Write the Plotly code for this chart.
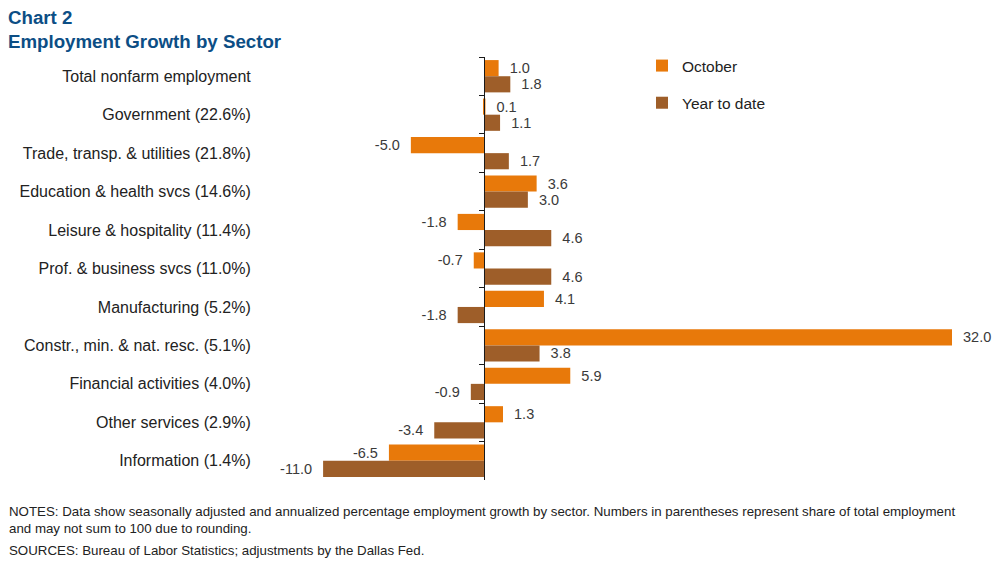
import plotly.graph_objects as go

categories = [
    "Total nonfarm employment",
    "Government (22.6%)",
    "Trade, transp. & utilities (21.8%)",
    "Education & health svcs (14.6%)",
    "Leisure & hospitality (11.4%)",
    "Prof. & business svcs (11.0%)",
    "Manufacturing (5.2%)",
    "Constr., min. & nat. resc. (5.1%)",
    "Financial activities (4.0%)",
    "Other services (2.9%)",
    "Information (1.4%)",
]
october = [1.0, 0.1, -5.0, 3.6, -1.8, -0.7, 4.1, 32.0, 5.9, 1.3, -6.5]
year_to_date = [1.8, 1.1, 1.7, 3.0, 4.6, 4.6, -1.8, 3.8, -0.9, -3.4, -11.0]

ORANGE = "#E8790A"
BROWN = "#9E5E29"
TXT = "#3a3a3a"
FONT = "Liberation Sans, Arial, sans-serif"
SP = "\u00a0\u00a0"


def labels(vals):
    return [f"{SP}{v:.1f}" if v >= 0 else f"{v:.1f}{SP}" for v in vals]


L, R, T, B = 251, 45, 57, 85
W, H = 997, 565
PW, PH = W - L - R, H - T - B

xmin, xmax = -15.93, 32.0
zero_pos = (0 - xmin) / (xmax - xmin)

fig = go.Figure()
fig.add_trace(go.Bar(
    y=categories, x=october, orientation="h", name="October",
    marker=dict(color=ORANGE, line=dict(width=0)),
    text=labels(october), texttemplate="%{text}", textposition="outside",
    cliponaxis=False, textfont=dict(size=14.5, color=TXT, family=FONT),
    legendgroup="a",
))
fig.add_trace(go.Bar(
    y=categories, x=year_to_date, orientation="h", name="Year to date",
    marker=dict(color=BROWN, line=dict(width=0)),
    text=labels(year_to_date), texttemplate="%{text}", textposition="outside",
    cliponaxis=False, textfont=dict(size=14.5, color=TXT, family=FONT),
    legendgroup="b",
))

fig.update_layout(
    width=W, height=H,
    margin=dict(l=L, r=R, t=T, b=B, autoexpand=False),
    paper_bgcolor="white", plot_bgcolor="white",
    barmode="group", bargap=0.16, bargroupgap=0.0,
    font=dict(family=FONT, color="#222222"),
    showlegend=True,
    legend=dict(x=(642 - L) / PW, y=1 + 8 / PH, xanchor="left", yanchor="top",
                font=dict(size=15.5, color="#222222", family=FONT),
                traceorder="grouped", tracegroupgap=14,
                bgcolor="rgba(0,0,0,0)"),
    xaxis=dict(range=[xmin, xmax], showgrid=False, zeroline=False,
               showticklabels=False, showline=False, ticks="", automargin=False),
    yaxis=dict(categoryorder="array", categoryarray=categories,
               autorange="reversed", showgrid=False, zeroline=False,
               anchor="free", position=zero_pos, side="left",
               showline=True, linecolor="#1a1a1a", linewidth=1,
               ticks="outside", tickson="boundaries", ticklen=5,
               tickcolor="#1a1a1a", ticklabelstandoff=230,
               automargin=False,
               tickfont=dict(size=16, color="#222222", family=FONT)),
)

fig.add_annotation(xref="paper", yref="paper", x=-(L - 6) / PW, y=1 + (T - 5) / PH,
                   xanchor="left", yanchor="top", align="left", showarrow=False,
                   text="<b>Chart 2</b><br><b>Employment Growth by Sector</b>",
                   font=dict(size=18.7, color="#0C4E85", family=FONT))
fig.add_annotation(xref="paper", yref="paper", x=-(L - 7) / PW, y=-(502 - T - PH) / PH,
                   xanchor="left", yanchor="top", align="left", showarrow=False,
                   text=("NOTES: Data show seasonally adjusted and annualized percentage employment growth by sector. "
                         "Numbers in parentheses represent share of total employment<br>"
                         "and may not sum to 100 due to rounding."),
                   font=dict(size=13.3, color="#222222", family=FONT))
fig.add_annotation(xref="paper", yref="paper", x=-(L - 7) / PW, y=-(541 - T - PH) / PH,
                   xanchor="left", yanchor="top", align="left", showarrow=False,
                   text="SOURCES: Bureau of Labor Statistics; adjustments by the Dallas Fed.",
                   font=dict(size=13.3, color="#222222", family=FONT))

fig.write_html("out.html", config={"displayModeBar": False},
               post_script="document.body.style.margin='0';document.body.style.overflow='hidden';")
